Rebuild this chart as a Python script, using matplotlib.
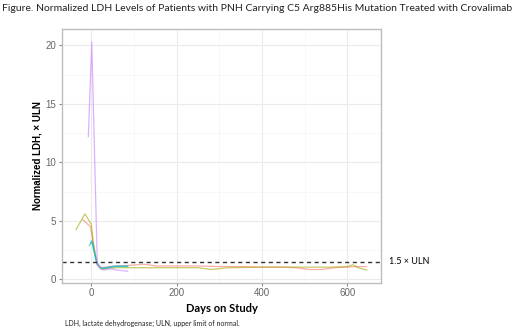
import matplotlib
matplotlib.use("Agg")
import matplotlib.pyplot as plt
from matplotlib.ticker import MultipleLocator

# ========= data =========
salmon_days = [-20, -2, 5, 14, 25, 40, 60, 90, 120, 135, 150, 200, 250, 300, 350,
               400, 450, 480, 510, 540, 570, 600, 620, 645]
salmon_ldh = [5.1, 4.5, 3.0, 1.2, 1.0, 1.1, 1.15, 1.2, 1.3, 1.25, 1.15, 1.15, 1.15,
              1.1, 1.1, 1.05, 1.05, 1.0, 0.85, 0.85, 1.0, 1.05, 1.1, 1.1]

olive_days = [-36, -15, 0, 5, 14, 25, 40, 60, 100, 150, 200, 250, 280, 320, 400,
              500, 560, 600, 613, 625, 645]
olive_ldh = [4.25, 5.6, 4.7, 3.0, 1.3, 0.85, 0.95, 1.0, 1.0, 1.0, 1.0, 1.0, 0.85,
             1.0, 1.05, 1.05, 1.05, 1.1, 1.25, 1.0, 0.8]

green_days = [-5, 2, 12, 22, 40, 60, 85]
green_ldh = [2.9, 3.2, 1.4, 0.9, 1.0, 1.1, 1.1]

cyan_days = [-2, 1, 10, 20, 35, 55, 85]
cyan_ldh = [3.1, 3.3, 1.8, 1.0, 1.0, 1.15, 1.15]

purple_days = [-7, 1, 14, 28, 45, 60, 85]
purple_ldh = [12.2, 20.3, 1.3, 0.8, 0.9, 0.8, 0.7]

ULN_THRESHOLD = 1.5

series = [
    (salmon_days, salmon_ldh, "#F8766D"),
    (olive_days, olive_ldh, "#A3A500"),
    (green_days, green_ldh, "#00BF7D"),
    (cyan_days, cyan_ldh, "#00B0F6"),
    (purple_days, purple_ldh, "#C77CFF"),
]

# ========= figure =========
fig = plt.figure(figsize=(5.2, 3.29), dpi=100)
ax = fig.add_axes([0.119, 0.140, 0.614, 0.772])

for days, ldh, col in series:
    ax.plot(days, ldh, color=col, lw=0.9, alpha=0.6)

ax.axhline(ULN_THRESHOLD, color="#333333", lw=1.0, ls=(0, (3, 2.5)))

ax.set_xlim(-69, 679)
ax.set_ylim(-0.3, 21.4)
ax.xaxis.set_major_locator(MultipleLocator(200))
ax.xaxis.set_minor_locator(MultipleLocator(100))
ax.yaxis.set_major_locator(MultipleLocator(5))
ax.yaxis.set_minor_locator(MultipleLocator(2.5))

ax.grid(which="major", color="#ebebeb", lw=0.8)
ax.grid(which="minor", color="#f4f4f4", lw=0.5)
ax.set_axisbelow(True)
for s in ax.spines.values():
    s.set_color("#bdbdbd")
    s.set_linewidth(1.0)

ax.tick_params(which="major", length=2.5, color="#888888", labelcolor="#666666",
               labelsize=7, pad=1.5)
ax.tick_params(which="minor", length=0)
for lab in ax.get_xticklabels() + ax.get_yticklabels():
    lab.set_family("Liberation Sans")

ax.set_xlabel("Days on Study", fontsize=8, fontweight="bold", family="Lato", labelpad=3)
ax.set_ylabel("Normalized LDH, \u00d7 ULN", fontsize=7, fontweight="bold",
              family="Liberation Sans", labelpad=2)

ax.text(1.025, ULN_THRESHOLD, "1.5 \u00d7 ULN", transform=ax.get_yaxis_transform(),
        fontsize=6.5, family="Lato", va="center", ha="left", clip_on=False)

fig.text(0.004, 0.975, "Figure. Normalized LDH Levels of Patients with PNH Carrying C5 "
         "Arg885His Mutation Treated with Crovalimab",
         fontsize=7.45, family="Lato", va="center", ha="left", color="#222222")
fig.text(0.125, 0.018, "LDH, lactate dehydrogenase; ULN, upper limit of normal.",
         fontsize=5, family="Lato", va="center", ha="left", color="#222222")

fig.savefig("out.png", dpi=100)
